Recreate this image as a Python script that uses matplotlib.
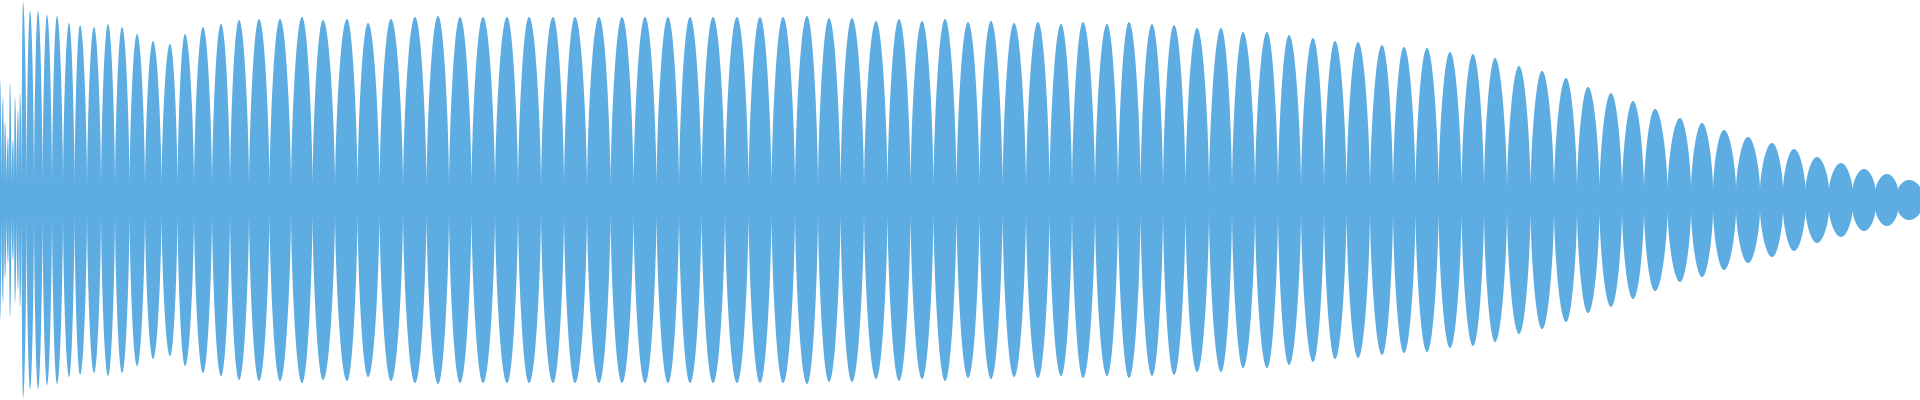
import numpy as np
import matplotlib
matplotlib.use("Agg")
import matplotlib.pyplot as plt

# lobe centres (sample index) and peak amplitudes
lobe_pos = [0, 3, 5, 8, 10, 13, 15, 18, 20,
            23, 30, 38, 47, 57, 69, 80, 94, 108, 122, 137, 153, 170, 185, 203, 221, 239, 259, 280, 302, 323, 347, 368, 391,
            415, 438, 460, 483, 507, 529, 553, 575, 599, 622, 645, 668, 690, 713, 737, 760, 783,
            807, 829, 852, 876, 899, 922, 945, 968, 991, 1014, 1038, 1061, 1083, 1107, 1129, 1152, 1174, 1197,
            1221, 1243, 1267, 1289, 1313, 1335, 1358, 1382, 1404, 1427, 1450, 1473, 1495, 1519, 1542, 1566, 1588,
            1611, 1633, 1655, 1680, 1702, 1724, 1748, 1772, 1794, 1817, 1841, 1864, 1887, 1909]
lobe_amp = [120, 103, 78, 63, 117, 60, 103, 90, 107,
            198, 189, 189, 185, 184, 177, 175, 173, 176, 173, 166, 159, 156, 166, 173, 176, 180, 181, 181, 183, 180, 181, 177, 181,
            183, 184, 183, 183, 183, 183, 183, 183, 183, 183, 183, 183, 183, 183, 183, 183, 183,
            184, 182, 182, 179, 181, 179, 181, 178, 179, 177, 178, 176, 178, 176, 178, 176, 175, 172,
            172, 168, 168, 165, 162, 159, 158, 155, 153, 152, 148, 146, 142, 134, 129, 122, 113,
            107, 99, 91, 82, 77, 70, 63, 57, 51, 43, 37, 31, 26, 20]
trough_amp = 10
n_samples = 1920

pos = np.array(lobe_pos, float)
amp = np.array(lobe_amp, float)
x = np.linspace(0, n_samples, 30000)
env = np.zeros_like(x)
bounds = np.concatenate([[pos[0] - 2], (pos[:-1] + pos[1:]) / 2, [pos[-1] + 12]])
for i in range(len(pos)):
    for lo, hi in ((bounds[i], pos[i]), (pos[i], bounds[i + 1])):
        if hi - lo <= 0:
            continue
        m = (x >= lo) & (x <= hi)
        t = np.abs(x[m] - pos[i]) / (hi - lo)
        shape = np.cos(np.pi / 2 * t) ** 0.6
        env[m] = np.maximum(env[m], trough_amp + (amp[i] - trough_amp) * shape)
env[x > bounds[-1]] = trough_amp

fig = plt.figure(figsize=(19.2, 4), dpi=100)
ax = fig.add_axes([0, 0, 1, 1])
ax.fill_between(x, -env, env, color="#5DADE2", linewidth=0)
ax.set_xlim(0, n_samples)
ax.set_ylim(-200, 200)
ax.axis("off")
fig.savefig("out.png", dpi=100)
